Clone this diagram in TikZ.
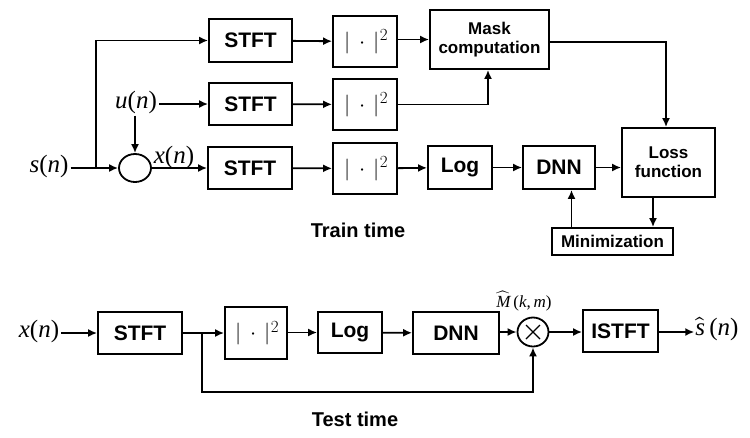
\documentclass[tikz,border=0pt]{standalone}
\usepackage{fontspec}
\usepackage{unicode-math}
\setmathfont{Latin Modern Math}
\setsansfont{Liberation Sans}
\newfontfamily\tms{Liberation Serif}
\usetikzlibrary{arrows.meta,shapes.geometric,calc}
\newcommand{\vi}[1]{{\tms\itshape #1}}
\newcommand{\sqlabel}{\hspace*{2pt}${|}\mkern7mu{\cdot}\mkern7mu{|}$\raisebox{7.5pt}{\fontsize{17}{17}\selectfont 2}}
\tikzset{
  blk/.style={draw, line width=1.8pt, inner sep=0pt, font=\sffamily\bfseries\fontsize{21}{24}\selectfont, align=center},
  blks/.style={blk, font=\sffamily\bfseries\fontsize{17}{21}\selectfont},
  sqbox/.style={draw, line width=1.8pt, inner sep=0pt, minimum width=64pt, minimum height=51pt, font=\fontsize{22}{26}\selectfont},
  mtxt/.style={inner sep=2pt, font=\tms\fontsize{25}{28}\selectfont},
  ttl/.style={inner sep=0pt, font=\sffamily\bfseries\fontsize{20}{24}\selectfont},
  arr/.style={line width=1.8pt, -{Latex[length=9pt,width=8pt]}},
  ln/.style={line width=1.8pt},
  rnd/.style={draw, line width=1.8pt, ellipse, inner sep=0pt}
}
\begin{document}
\begin{tikzpicture}[x=1pt,y=-1pt]
\useasboundingbox (0,0) rectangle (750,437);
% ---- Train time ----
\node[blk, minimum width=83pt, minimum height=43pt] (stft1) at (250.5,40.5) {STFT};
\node[sqbox] (sq1) at (365,41.5) {\sqlabel};
\node[blks, minimum width=119pt, minimum height=59pt] (mask) at (489.5,39.5) {Mask\\[-2pt]computation};
\node[blk, minimum width=83pt, minimum height=42pt] (stft2) at (250.5,104) {STFT};
\node[sqbox] (sq2) at (365,104.5) {\sqlabel};
\node[mtxt] (uN) at (136,102) {\vi{u}(\vi{n})};
\node[rnd, minimum width=32pt, minimum height=28pt] (sum) at (135,168) {};
\node[mtxt] (sN) at (49,166) {\vi{s}(\vi{n})};
\node[blk, minimum width=84pt, minimum height=42pt] (stft3) at (250,168) {STFT};
\node[sqbox] (sq3) at (365,168.5) {\sqlabel};
\node[blk, minimum width=64pt, minimum height=43pt] (log1) at (460,167.5) {Log};
\node[blk, minimum width=72pt, minimum height=43pt] (dnn1) at (559,167.5) {DNN};
\node[blks, minimum width=93pt, minimum height=69pt] (loss) at (668.5,162.5) {Loss\\[-2pt]function};
\node[blks, minimum width=121pt, minimum height=27pt] (minim) at (612.5,241.5) {Minimization};
\node[ttl] (train) at (358,230) {Train time};

\coordinate (b1) at (96,168);
\draw[ln] (sN.east |- sum.west) -- (b1);
\draw[arr] (b1) -- (sum.west);
\draw[arr] (b1) |- (stft1.west);
\draw[arr] (uN.east |- stft2.west) -- (stft2.west);
\draw[arr] (sum.north |- uN.south) -- (sum.north);
\draw[arr] (sum.east) -- node[mtxt, above, pos=0.4, yshift=-4pt] (xN1) {\vi{x}(\vi{n})} (stft3.west);
\draw[arr] (stft1) -- (sq1);
\draw[arr] (stft2) -- (sq2);
\draw[arr] (stft3) -- (sq3);
\draw[arr] (sq1.east |- mask.west) -- (mask.west);
\draw[arr] (sq2.east) -| ([xshift=-1.5pt]mask.south);
\draw[arr] (sq3) -- (log1);
\draw[arr] (log1) -- (dnn1);
\draw[arr] (dnn1.east) -- (dnn1.east -| loss.west);
\draw[arr] ([yshift=-2.5pt]mask.east) -| ([xshift=-2.5pt]loss.north);
\draw[arr] ([xshift=-15.5pt]loss.south) -- ([xshift=-15.5pt]loss.south |- minim.north);
\draw[arr] ([xshift=12.5pt]dnn1.south |- minim.north) -- ([xshift=12.5pt]dnn1.south);

% ---- Test time ----
\node[mtxt] (xN) at (39,331) {\vi{x}(\vi{n})};
\node[blk, minimum width=84pt, minimum height=42pt] (stft4) at (140,333) {STFT};
\node[sqbox, minimum width=62pt, minimum height=52pt] (sq4) at (256,333) {\sqlabel};
\node[blk, minimum width=64pt, minimum height=41pt] (log2) at (350,332.5) {Log};
\node[blk, minimum width=86pt, minimum height=42pt] (dnn2) at (456,333) {DNN};
\node[rnd, minimum width=31pt, minimum height=29pt] (mult) at (533,332) {};
\draw[line width=1.3pt] ($(mult)+(-7,-7)$) -- ($(mult)+(7,7)$) ($(mult)+(-7,7)$) -- ($(mult)+(7,-7)$);
\node[inner sep=0pt, font=\tms\fontsize{17}{20}\selectfont] (Mhat) at (524,301) {$\widehat{\hbox{\vi{M}}}$\,(\vi{k},\,\vi{m})};
\node[inner sep=1pt, font=\tms\fontsize{25}{28}\selectfont] (shat) at (717,329) {$\widehat{\hbox{\vi{s}}}$\,(\vi{n})};
\node[blk, minimum width=75pt, minimum height=42pt] (istft) at (620.5,331) {ISTFT};
\node[ttl] (test) at (355,419) {Test time};

\coordinate (b2) at (202,333);
\coordinate (b3) at (202,392);
\draw[arr] (xN.east |- stft4.west) -- (stft4.west);
\draw[ln] (stft4.east) -- (b2);
\draw[arr] (b2) -- (sq4.west);
\draw[arr] (b2) -- (b3) -| (mult.south);
\draw[arr] (sq4.east |- log2.west) -- (log2.west);
\draw[arr] (log2) -- (dnn2);
\draw[arr] (dnn2.east |- mult.west) -- (mult.west);
\draw[arr] (mult.east) -- (mult.east -| istft.west);
\draw[arr] (istft.east |- mult.east) -- (shat.west |- mult.east);
\end{tikzpicture}
\end{document}
